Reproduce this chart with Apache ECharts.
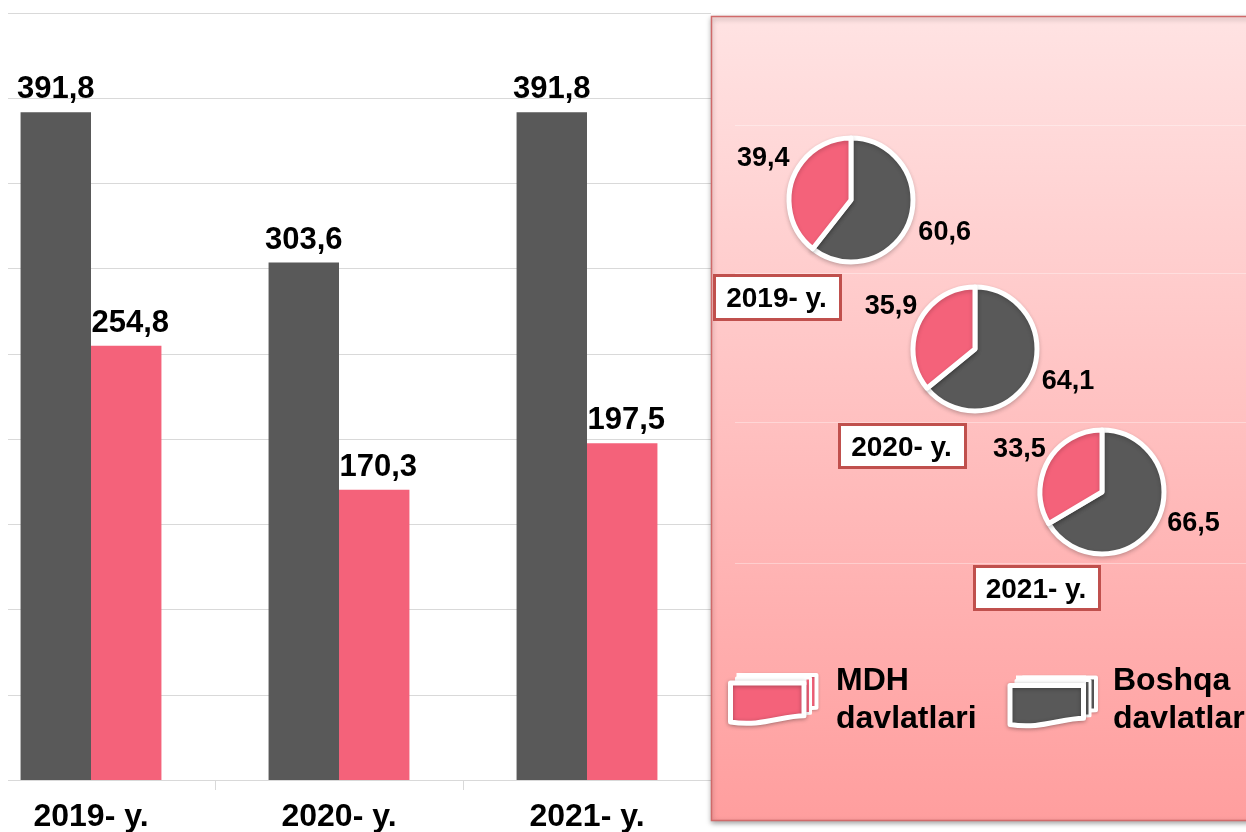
<!DOCTYPE html>
<html><head><meta charset="utf-8">
<style>html,body{margin:0;padding:0;background:#fff}#c{width:1246px;height:832px}</style>
<script src="https://cdn.jsdelivr.net/npm/echarts@6/dist/echarts.min.js"></script>
</head><body><div id="c"></div>
<script>
const years = ['2019- y.', '2020- y.', '2021- y.'];
const otherCountries = [391.8, 303.6, 391.8];
const cisCountries = [254.8, 170.3, 197.5];
const shareCis = [39.4, 35.9, 33.5];
const shareOther = [60.6, 64.1, 66.5];
const legendCis = 'MDH\ndavlatlari';
const legendOther = 'Boshqa\ndavlatlar';
const GREY = '#595959', PINK = '#F4627A', FONT = '"Liberation Sans", Arial, sans-serif';
const fmt = v => v.toFixed(1).replace('.', ',');

echarts.graphic.registerShape('waveCard', echarts.graphic.extendShape({
  shape:{x:0,y:0,width:0,height:0},
  buildPath(ctx,s){
    const {x,y,width:w,height:h}=s;
    ctx.moveTo(x,y); ctx.lineTo(x+w,y); ctx.lineTo(x+w,y+h*.8);
    ctx.bezierCurveTo(x+w*.7,y+h*.8,x+w*.4,y+h*1.08,x,y+h*.95);
    ctx.closePath();
  }
}));
const chart = echarts.init(document.getElementById('c'), null, {renderer:'canvas'});

const pieCenters = [[851,200],[975,349],[1102,492]];
const pieLabelShift = [[[0,11],[6,-20]],[[2,4],[7,-14]],[[3,-1],[6,-10]]];
const pies = years.map((y,i)=>({
  type:'pie', name:y, z:6, radius:[0,62], center:pieCenters[i], startAngle:90, clockwise:true,
  animation:false, silent:true,
  itemStyle:{borderColor:'#fff',borderWidth:5,shadowBlur:4,shadowColor:'rgba(0,0,0,.18)',shadowOffsetY:2},
  label:{show:true,position:'outside',formatter:p=>fmt(p.value),color:'#000',
    fontFamily:FONT,fontWeight:'bold',fontSize:27},
  labelLine:{show:false,length:4,length2:0},
  labelLayout:p=>({dx:pieLabelShift[i][p.dataIndex][0],dy:pieLabelShift[i][p.dataIndex][1]}),
  data:[{name:'Boshqa davlatlar',value:shareOther[i],itemStyle:{color:GREY}},
        {name:'MDH davlatlari',value:shareCis[i],itemStyle:{color:PINK}}]
}));

const yearBoxes = [[713,274,129,47],[838,423,129,46],[973,565,128,46]].map((b,i)=>({
  type:'rect', z:7, shape:{x:b[0]+1.5,y:b[1]+1.5,width:b[2]-3,height:b[3]-3},
  style:{fill:'#fff',stroke:'#C0504D',lineWidth:3},
  textContent:{type:'text',z:8,style:{text:years[i],font:'bold 28px '+FONT,fill:'#000'}},
  textConfig:{position:'inside',offset:[-1,2]}
}));
const panelLines = [125,273,422,563].map(y=>({type:'line',z:4,
  shape:{x1:735,y1:y+.5,x2:1246,y2:y+.5},style:{stroke:'rgba(255,255,255,.35)',lineWidth:1}}));

function icon(ox,oy,color){
  const card=(x,y,w,h,lw,extra)=>({type:'waveCard',z:5,shape:{x:ox+x,y:oy+y,width:w,height:h},
    style:Object.assign({fill:color,stroke:'#fff',lineWidth:lw,lineJoin:'round'},extra||{})});
  return [
    card(13,-8,73,41,4,{shadowBlur:3,shadowColor:'rgba(0,0,0,.2)',shadowOffsetY:1}),
    card(6,-5,74,44,3),
    {type:'rect',z:5,shape:{x:ox+6,y:oy-10,width:70,height:12},style:{fill:'#fff'}},
    card(0,0,73.5,41,5,{shadowBlur:4,shadowColor:'rgba(0,0,0,.3)',shadowOffsetY:1})
  ];
}
const legendText=(x,y,t)=>({type:'text',z:5,x,y,
  style:{text:t,font:'bold 32px '+FONT,lineHeight:38,fill:'#000'}});

const barLabel = {show:true,position:'top',distance:7,formatter:p=>fmt(p.value),color:'#000',
  fontFamily:FONT,fontWeight:'bold',fontSize:31};

chart.setOption({
  animation:false, backgroundColor:'#fff',
  grid:{left:-33,top:13,width:744,bottom:52,outerBoundsMode:'none'},
  xAxis:{type:'category',data:years,
    axisLine:{lineStyle:{color:'#D9D9D9',width:1}},
    axisTick:{show:true,length:10,lineStyle:{color:'#D9D9D9'}},
    axisLabel:{color:'#000',fontFamily:FONT,fontWeight:'bold',fontSize:32,margin:21,interval:0}},
  yAxis:{type:'value',min:0,max:450,interval:50,
    axisLabel:{show:false},axisLine:{show:false},axisTick:{show:false},
    splitLine:{lineStyle:{color:'#D9D9D9',width:1}}},
  series:[
    {type:'bar',name:'Boshqa davlatlar',data:otherCountries,barWidth:'28.4%',barGap:0,z:2,
     itemStyle:{color:GREY},label:barLabel},
    {type:'bar',name:'MDH davlatlari',data:cisCountries,barWidth:'28.4%',barGap:0,z:2,
     itemStyle:{color:PINK},label:Object.assign({},barLabel,{offset:[4,0]})},
    ...pies
  ],
  graphic:{elements:[
    {type:'rect',z:1,shape:{x:0,y:0,width:8,height:832},style:{fill:'#fff'}},
    {type:'rect',z:3,shape:{x:711.5,y:16.5,width:560,height:804},
     style:{stroke:'#D06A6A',lineWidth:1.5,shadowBlur:5,shadowColor:'rgba(0,0,0,.35)',shadowOffsetY:2,
       fill:new echarts.graphic.LinearGradient(0,0,0,1,[{offset:0,color:'#FFE3E3'},{offset:1,color:'#FF9E9E'}])}},
    ...panelLines,
    ...yearBoxes,
    ...icon(730.5,683,PINK),
    ...icon(1010,685.5,GREY),
    legendText(836,662,legendCis),
    legendText(1113,662,legendOther)
  ]}
});
</script></body></html>
